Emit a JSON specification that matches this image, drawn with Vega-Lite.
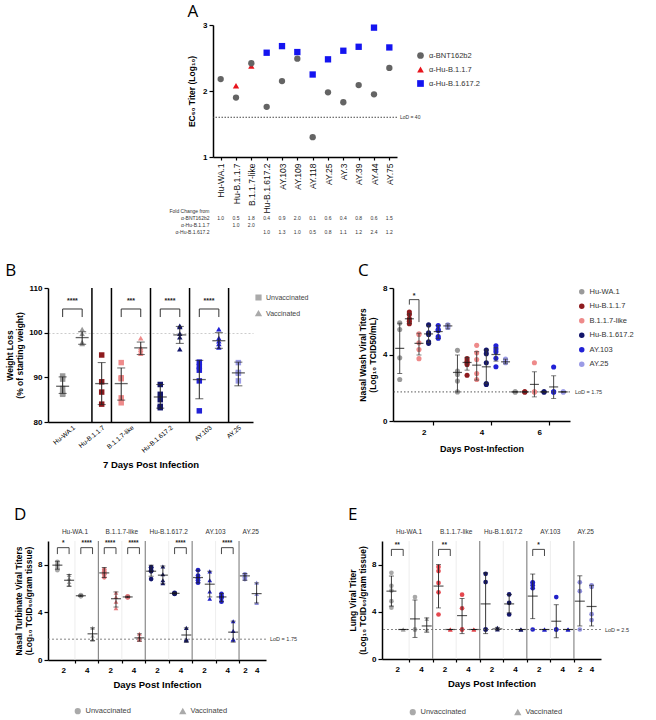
{
"$schema":"https://vega.github.io/schema/vega-lite/v6.json",
"background":"white",
"padding":{"left":5,"top":3,"right":0,"bottom":0},
"config":{
 "font":"Liberation Sans",
 "view":{"stroke":null},
 "axis":{"grid":false,"domainColor":"#000","tickColor":"#000","labelColor":"#000","titleColor":"#000","domainWidth":1.5,"tickWidth":1.2,"labelFont":"Liberation Sans","titleFont":"Liberation Sans"},
 "legend":{"labelFont":"Liberation Sans","labelColor":"#333"},
 "title":{"fontSize":17,"fontWeight":"normal","anchor":"start","frame":"bounds","font":"Open Sans","color":"#000","offset":4}
},
"datasets":{
 "Apts":[
  {"variant":"Hu-WA.1","serum":"α-BNT162b2","titer":2.18},
  {"variant":"Hu-B.1.1.7","serum":"α-Hu-B.1.1.7","titer":2.08},
  {"variant":"Hu-B.1.1.7","serum":"α-BNT162b2","titer":1.90},
  {"variant":"B.1.1.7-like","serum":"α-Hu-B.1.1.7","titer":2.38},
  {"variant":"B.1.1.7-like","serum":"α-BNT162b2","titer":2.42},
  {"variant":"Hu-B.1.617.2","serum":"α-BNT162b2","titer":1.76},
  {"variant":"Hu-B.1.617.2","serum":"α-Hu-B.1.617.2","titer":2.58},
  {"variant":"AY.103","serum":"α-BNT162b2","titer":2.15},
  {"variant":"AY.103","serum":"α-Hu-B.1.617.2","titer":2.68},
  {"variant":"AY.109","serum":"α-BNT162b2","titer":2.49},
  {"variant":"AY.109","serum":"α-Hu-B.1.617.2","titer":2.59},
  {"variant":"AY.118","serum":"α-BNT162b2","titer":1.30},
  {"variant":"AY.118","serum":"α-Hu-B.1.617.2","titer":2.25},
  {"variant":"AY.25","serum":"α-BNT162b2","titer":1.98},
  {"variant":"AY.25","serum":"α-Hu-B.1.617.2","titer":2.48},
  {"variant":"AY.3","serum":"α-BNT162b2","titer":1.83},
  {"variant":"AY.3","serum":"α-Hu-B.1.617.2","titer":2.61},
  {"variant":"AY.39","serum":"α-BNT162b2","titer":2.09},
  {"variant":"AY.39","serum":"α-Hu-B.1.617.2","titer":2.67},
  {"variant":"AY.44","serum":"α-BNT162b2","titer":1.95},
  {"variant":"AY.44","serum":"α-Hu-B.1.617.2","titer":2.96},
  {"variant":"AY.75","serum":"α-BNT162b2","titer":2.35},
  {"variant":"AY.75","serum":"α-Hu-B.1.617.2","titer":2.66}
 ],
 "Alod":[{"lod":1.602,"label":"LoD = 40"}],
 "Afold":[
  {"variant":"Hu-WA.1","row":"α-BNT162b2","fold":1.0},
  {"variant":"Hu-B.1.1.7","row":"α-BNT162b2","fold":0.5},
  {"variant":"B.1.1.7-like","row":"α-BNT162b2","fold":1.8},
  {"variant":"Hu-B.1.617.2","row":"α-BNT162b2","fold":0.4},
  {"variant":"AY.103","row":"α-BNT162b2","fold":0.9},
  {"variant":"AY.109","row":"α-BNT162b2","fold":2.0},
  {"variant":"AY.118","row":"α-BNT162b2","fold":0.1},
  {"variant":"AY.25","row":"α-BNT162b2","fold":0.6},
  {"variant":"AY.3","row":"α-BNT162b2","fold":0.4},
  {"variant":"AY.39","row":"α-BNT162b2","fold":0.8},
  {"variant":"AY.44","row":"α-BNT162b2","fold":0.6},
  {"variant":"AY.75","row":"α-BNT162b2","fold":1.5},
  {"variant":"Hu-B.1.1.7","row":"α-Hu-B.1.1.7","fold":1.0},
  {"variant":"B.1.1.7-like","row":"α-Hu-B.1.1.7","fold":2.0},
  {"variant":"Hu-B.1.617.2","row":"α-Hu-B.1.617.2","fold":1.0},
  {"variant":"AY.103","row":"α-Hu-B.1.617.2","fold":1.3},
  {"variant":"AY.109","row":"α-Hu-B.1.617.2","fold":1.0},
  {"variant":"AY.118","row":"α-Hu-B.1.617.2","fold":0.5},
  {"variant":"AY.25","row":"α-Hu-B.1.617.2","fold":0.8},
  {"variant":"AY.3","row":"α-Hu-B.1.617.2","fold":1.1},
  {"variant":"AY.39","row":"α-Hu-B.1.617.2","fold":1.2},
  {"variant":"AY.44","row":"α-Hu-B.1.617.2","fold":2.4},
  {"variant":"AY.75","row":"α-Hu-B.1.617.2","fold":1.2}
 ],
 "Bpts":[
  {"slot":"Hu-WA.1|U","variant":"Hu-WA.1","status":"Unvaccinated","value":90.3},
  {"slot":"Hu-WA.1|U","variant":"Hu-WA.1","status":"Unvaccinated","value":89.6},
  {"slot":"Hu-WA.1|U","variant":"Hu-WA.1","status":"Unvaccinated","value":87.5},
  {"slot":"Hu-WA.1|U","variant":"Hu-WA.1","status":"Unvaccinated","value":86.4},
  {"slot":"Hu-WA.1|U","variant":"Hu-WA.1","status":"Unvaccinated","value":86.2},
  {"slot":"Hu-WA.1|V","variant":"Hu-WA.1","status":"Vaccinated","value":100.8},
  {"slot":"Hu-WA.1|V","variant":"Hu-WA.1","status":"Vaccinated","value":99.8},
  {"slot":"Hu-WA.1|V","variant":"Hu-WA.1","status":"Vaccinated","value":97.9},
  {"slot":"Hu-WA.1|V","variant":"Hu-WA.1","status":"Vaccinated","value":97.6},
  {"slot":"Hu-WA.1|V","variant":"Hu-WA.1","status":"Vaccinated","value":97.5},
  {"slot":"Hu-B.1.1.7|U","variant":"Hu-B.1.1.7","status":"Unvaccinated","value":95.0},
  {"slot":"Hu-B.1.1.7|U","variant":"Hu-B.1.1.7","status":"Unvaccinated","value":89.0},
  {"slot":"Hu-B.1.1.7|U","variant":"Hu-B.1.1.7","status":"Unvaccinated","value":86.7},
  {"slot":"Hu-B.1.1.7|U","variant":"Hu-B.1.1.7","status":"Unvaccinated","value":84.0},
  {"slot":"B.1.1.7-like|U","variant":"B.1.1.7-like","status":"Unvaccinated","value":93.3},
  {"slot":"B.1.1.7-like|U","variant":"B.1.1.7-like","status":"Unvaccinated","value":89.9},
  {"slot":"B.1.1.7-like|U","variant":"B.1.1.7-like","status":"Unvaccinated","value":89.7},
  {"slot":"B.1.1.7-like|U","variant":"B.1.1.7-like","status":"Unvaccinated","value":85.4},
  {"slot":"B.1.1.7-like|U","variant":"B.1.1.7-like","status":"Unvaccinated","value":84.3},
  {"slot":"B.1.1.7-like|V","variant":"B.1.1.7-like","status":"Vaccinated","value":98.8},
  {"slot":"B.1.1.7-like|V","variant":"B.1.1.7-like","status":"Vaccinated","value":96.6},
  {"slot":"B.1.1.7-like|V","variant":"B.1.1.7-like","status":"Vaccinated","value":96.2},
  {"slot":"B.1.1.7-like|V","variant":"B.1.1.7-like","status":"Vaccinated","value":95.8},
  {"slot":"B.1.1.7-like|V","variant":"B.1.1.7-like","status":"Vaccinated","value":95.3},
  {"slot":"Hu-B.1.617.2|U","variant":"Hu-B.1.617.2","status":"Unvaccinated","value":88.4},
  {"slot":"Hu-B.1.617.2|U","variant":"Hu-B.1.617.2","status":"Unvaccinated","value":86.2},
  {"slot":"Hu-B.1.617.2|U","variant":"Hu-B.1.617.2","status":"Unvaccinated","value":85.0},
  {"slot":"Hu-B.1.617.2|U","variant":"Hu-B.1.617.2","status":"Unvaccinated","value":83.5},
  {"slot":"Hu-B.1.617.2|U","variant":"Hu-B.1.617.2","status":"Unvaccinated","value":83.2},
  {"slot":"Hu-B.1.617.2|V","variant":"Hu-B.1.617.2","status":"Vaccinated","value":101.5},
  {"slot":"Hu-B.1.617.2|V","variant":"Hu-B.1.617.2","status":"Vaccinated","value":101.3},
  {"slot":"Hu-B.1.617.2|V","variant":"Hu-B.1.617.2","status":"Vaccinated","value":99.8},
  {"slot":"Hu-B.1.617.2|V","variant":"Hu-B.1.617.2","status":"Vaccinated","value":99.0},
  {"slot":"Hu-B.1.617.2|V","variant":"Hu-B.1.617.2","status":"Vaccinated","value":96.3},
  {"slot":"AY.103|U","variant":"AY.103","status":"Unvaccinated","value":93.4},
  {"slot":"AY.103|U","variant":"AY.103","status":"Unvaccinated","value":92.4},
  {"slot":"AY.103|U","variant":"AY.103","status":"Unvaccinated","value":91.6},
  {"slot":"AY.103|U","variant":"AY.103","status":"Unvaccinated","value":89.2},
  {"slot":"AY.103|U","variant":"AY.103","status":"Unvaccinated","value":82.5},
  {"slot":"AY.103|V","variant":"AY.103","status":"Vaccinated","value":100.8},
  {"slot":"AY.103|V","variant":"AY.103","status":"Vaccinated","value":98.8},
  {"slot":"AY.103|V","variant":"AY.103","status":"Vaccinated","value":98.1},
  {"slot":"AY.103|V","variant":"AY.103","status":"Vaccinated","value":97.5},
  {"slot":"AY.103|V","variant":"AY.103","status":"Vaccinated","value":96.7},
  {"slot":"AY.25|U","variant":"AY.25","status":"Unvaccinated","value":93.3},
  {"slot":"AY.25|U","variant":"AY.25","status":"Unvaccinated","value":91.1},
  {"slot":"AY.25|U","variant":"AY.25","status":"Unvaccinated","value":90.9},
  {"slot":"AY.25|U","variant":"AY.25","status":"Unvaccinated","value":89.2}
 ],
 "Bsum":[
  {"slot":"Hu-WA.1|U","mean":88.0,"lo":86.4,"hi":90.1},
  {"slot":"Hu-WA.1|V","mean":98.9,"lo":97.4,"hi":100.2},
  {"slot":"Hu-B.1.1.7|U","mean":88.6,"lo":83.9,"hi":93.3},
  {"slot":"B.1.1.7-like|U","mean":88.6,"lo":84.9,"hi":92.1},
  {"slot":"B.1.1.7-like|V","mean":96.6,"lo":95.1,"hi":97.9},
  {"slot":"Hu-B.1.617.2|U","mean":85.6,"lo":83.1,"hi":88.4},
  {"slot":"Hu-B.1.617.2|V","mean":99.5,"lo":97.6,"hi":101.4},
  {"slot":"AY.103|U","mean":89.5,"lo":85.2,"hi":93.8},
  {"slot":"AY.103|V","mean":98.2,"lo":96.5,"hi":100.0},
  {"slot":"AY.25|U","mean":91.0,"lo":88.1,"hi":93.4}
 ],
 "Bsep":[{"slot":"Hu-B.1.1.7|U"},{"slot":"B.1.1.7-like|U"},{"slot":"Hu-B.1.617.2|U"},{"slot":"AY.103|U"},{"slot":"AY.25|U"}],
 "Bbr":[
  {"from":"Hu-WA.1|U","to":"Hu-WA.1|V","stars":"****"},
  {"from":"B.1.1.7-like|U","to":"B.1.1.7-like|V","stars":"***"},
  {"from":"Hu-B.1.617.2|U","to":"Hu-B.1.617.2|V","stars":"****"},
  {"from":"AY.103|U","to":"AY.103|V","stars":"****"}
 ],
 "Cpts":[
  {"slot":"2|Hu-WA.1","variant":"Hu-WA.1","value":5.9},
  {"slot":"2|Hu-WA.1","variant":"Hu-WA.1","value":5.5},
  {"slot":"2|Hu-WA.1","variant":"Hu-WA.1","value":3.8},
  {"slot":"2|Hu-WA.1","variant":"Hu-WA.1","value":2.5},
  {"slot":"2|Hu-B.1.1.7","variant":"Hu-B.1.1.7","value":6.55},
  {"slot":"2|Hu-B.1.1.7","variant":"Hu-B.1.1.7","value":6.4},
  {"slot":"2|Hu-B.1.1.7","variant":"Hu-B.1.1.7","value":6.15},
  {"slot":"2|Hu-B.1.1.7","variant":"Hu-B.1.1.7","value":6.0},
  {"slot":"2|Hu-B.1.1.7","variant":"Hu-B.1.1.7","value":5.85},
  {"slot":"2|B.1.1.7-like","variant":"B.1.1.7-like","value":5.25},
  {"slot":"2|B.1.1.7-like","variant":"B.1.1.7-like","value":5.2},
  {"slot":"2|B.1.1.7-like","variant":"B.1.1.7-like","value":4.7},
  {"slot":"2|B.1.1.7-like","variant":"B.1.1.7-like","value":4.3},
  {"slot":"2|B.1.1.7-like","variant":"B.1.1.7-like","value":3.75},
  {"slot":"2|Hu-B.1.617.2","variant":"Hu-B.1.617.2","value":5.78},
  {"slot":"2|Hu-B.1.617.2","variant":"Hu-B.1.617.2","value":5.3},
  {"slot":"2|Hu-B.1.617.2","variant":"Hu-B.1.617.2","value":5.2},
  {"slot":"2|Hu-B.1.617.2","variant":"Hu-B.1.617.2","value":4.77},
  {"slot":"2|Hu-B.1.617.2","variant":"Hu-B.1.617.2","value":4.67},
  {"slot":"2|AY.103","variant":"AY.103","value":5.74},
  {"slot":"2|AY.103","variant":"AY.103","value":5.5},
  {"slot":"2|AY.103","variant":"AY.103","value":5.45},
  {"slot":"2|AY.103","variant":"AY.103","value":5.08},
  {"slot":"2|AY.103","variant":"AY.103","value":4.98},
  {"slot":"2|AY.25","variant":"AY.25","value":5.78},
  {"slot":"2|AY.25","variant":"AY.25","value":5.7},
  {"slot":"2|AY.25","variant":"AY.25","value":5.62},
  {"slot":"4|Hu-WA.1","variant":"Hu-WA.1","value":4.25},
  {"slot":"4|Hu-WA.1","variant":"Hu-WA.1","value":3.0},
  {"slot":"4|Hu-WA.1","variant":"Hu-WA.1","value":2.8},
  {"slot":"4|Hu-WA.1","variant":"Hu-WA.1","value":2.4},
  {"slot":"4|Hu-WA.1","variant":"Hu-WA.1","value":1.75},
  {"slot":"4|Hu-B.1.1.7","variant":"Hu-B.1.1.7","value":3.75},
  {"slot":"4|Hu-B.1.1.7","variant":"Hu-B.1.1.7","value":3.6},
  {"slot":"4|Hu-B.1.1.7","variant":"Hu-B.1.1.7","value":3.5},
  {"slot":"4|Hu-B.1.1.7","variant":"Hu-B.1.1.7","value":3.4},
  {"slot":"4|Hu-B.1.1.7","variant":"Hu-B.1.1.7","value":2.75},
  {"slot":"4|B.1.1.7-like","variant":"B.1.1.7-like","value":4.55},
  {"slot":"4|B.1.1.7-like","variant":"B.1.1.7-like","value":4.1},
  {"slot":"4|B.1.1.7-like","variant":"B.1.1.7-like","value":3.7},
  {"slot":"4|B.1.1.7-like","variant":"B.1.1.7-like","value":2.85},
  {"slot":"4|B.1.1.7-like","variant":"B.1.1.7-like","value":2.5},
  {"slot":"4|Hu-B.1.617.2","variant":"Hu-B.1.617.2","value":4.27},
  {"slot":"4|Hu-B.1.617.2","variant":"Hu-B.1.617.2","value":4.05},
  {"slot":"4|Hu-B.1.617.2","variant":"Hu-B.1.617.2","value":3.5},
  {"slot":"4|Hu-B.1.617.2","variant":"Hu-B.1.617.2","value":2.25},
  {"slot":"4|Hu-B.1.617.2","variant":"Hu-B.1.617.2","value":2.2},
  {"slot":"4|AY.103","variant":"AY.103","value":4.53},
  {"slot":"4|AY.103","variant":"AY.103","value":4.33},
  {"slot":"4|AY.103","variant":"AY.103","value":4.17},
  {"slot":"4|AY.103","variant":"AY.103","value":3.77},
  {"slot":"4|AY.103","variant":"AY.103","value":3.26},
  {"slot":"4|AY.25","variant":"AY.25","value":3.72},
  {"slot":"4|AY.25","variant":"AY.25","value":3.6},
  {"slot":"4|AY.25","variant":"AY.25","value":3.5},
  {"slot":"6|Hu-WA.1","variant":"Hu-WA.1","value":1.75},
  {"slot":"6|Hu-WA.1","variant":"Hu-WA.1","value":1.75},
  {"slot":"6|Hu-B.1.1.7","variant":"Hu-B.1.1.7","value":1.75},
  {"slot":"6|Hu-B.1.1.7","variant":"Hu-B.1.1.7","value":1.75},
  {"slot":"6|B.1.1.7-like","variant":"B.1.1.7-like","value":3.5},
  {"slot":"6|B.1.1.7-like","variant":"B.1.1.7-like","value":1.75},
  {"slot":"6|B.1.1.7-like","variant":"B.1.1.7-like","value":1.75},
  {"slot":"6|Hu-B.1.617.2","variant":"Hu-B.1.617.2","value":1.75},
  {"slot":"6|Hu-B.1.617.2","variant":"Hu-B.1.617.2","value":1.75},
  {"slot":"6|AY.103","variant":"AY.103","value":3.25},
  {"slot":"6|AY.103","variant":"AY.103","value":1.75},
  {"slot":"6|AY.103","variant":"AY.103","value":1.75},
  {"slot":"6|AY.25","variant":"AY.25","value":1.75},
  {"slot":"6|AY.25","variant":"AY.25","value":1.75}
 ],
 "Csum":[
  {"slot":"2|Hu-WA.1","mean":4.37,"lo":2.86,"hi":5.88},
  {"slot":"2|Hu-B.1.1.7","mean":6.15,"lo":5.88,"hi":6.45},
  {"slot":"2|B.1.1.7-like","mean":4.67,"lo":3.97,"hi":5.28},
  {"slot":"2|Hu-B.1.617.2","mean":5.24,"lo":4.73,"hi":5.74},
  {"slot":"2|AY.103","mean":5.38,"lo":4.97,"hi":5.74},
  {"slot":"2|AY.25","mean":5.72,"lo":5.54,"hi":5.84},
  {"slot":"4|Hu-WA.1","mean":2.92,"lo":1.75,"hi":3.97},
  {"slot":"4|Hu-B.1.1.7","mean":3.52,"lo":3.06,"hi":3.83},
  {"slot":"4|B.1.1.7-like","mean":3.36,"lo":2.46,"hi":4.17},
  {"slot":"4|Hu-B.1.617.2","mean":3.26,"lo":2.25,"hi":4.27},
  {"slot":"4|AY.103","mean":4.0,"lo":3.6,"hi":4.41},
  {"slot":"4|AY.25","mean":3.56,"lo":3.44,"hi":3.72},
  {"slot":"6|Hu-WA.1","mean":1.75,"lo":1.75,"hi":1.75},
  {"slot":"6|Hu-B.1.1.7","mean":1.75,"lo":1.75,"hi":1.75},
  {"slot":"6|B.1.1.7-like","mean":2.2,"lo":1.45,"hi":2.96},
  {"slot":"6|Hu-B.1.617.2","mean":1.75,"lo":1.75,"hi":1.75},
  {"slot":"6|AY.103","mean":2.05,"lo":1.35,"hi":2.72},
  {"slot":"6|AY.25","mean":1.75,"lo":1.75,"hi":1.75}
 ],
 "Clod":[{"lod":1.75,"label":"LoD = 1.75"}],
 "Cbr":[{"from":"2|Hu-B.1.1.7","to":"2|B.1.1.7-like","stars":"*"}],
 "Sep":[{"slot":"B.1.1.7-like|2|U"},{"slot":"Hu-B.1.617.2|2|U"},{"slot":"AY.103|2|U"},{"slot":"AY.25|2|U"}],
 "Faint":[{"slot":"Hu-WA.1|4|U"},{"slot":"B.1.1.7-like|4|U"},{"slot":"Hu-B.1.617.2|4|U"},{"slot":"AY.103|4|U"}],
 "Head":[{"slot":"Hu-WA.1|4|U"},{"slot":"B.1.1.7-like|4|U"},{"slot":"Hu-B.1.617.2|4|U"},{"slot":"AY.103|4|U"},{"slot":"AY.25|4|U"}],
 "Dlod":[{"lod":1.75,"label":"LoD = 1.75"}],
 "Elod":[{"lod":2.5,"label":"LoD = 2.5"}],
 "Dpts":[
  {"slot":"Hu-WA.1|2|U","variant":"Hu-WA.1","status":"Unvaccinated","value":8.25},
  {"slot":"Hu-WA.1|2|U","variant":"Hu-WA.1","status":"Unvaccinated","value":8.05},
  {"slot":"Hu-WA.1|2|U","variant":"Hu-WA.1","status":"Unvaccinated","value":7.9},
  {"slot":"Hu-WA.1|2|U","variant":"Hu-WA.1","status":"Unvaccinated","value":7.7},
  {"slot":"Hu-WA.1|2|U","variant":"Hu-WA.1","status":"Unvaccinated","value":7.55},
  {"slot":"Hu-WA.1|2|V","variant":"Hu-WA.1","status":"Vaccinated","value":7.15},
  {"slot":"Hu-WA.1|2|V","variant":"Hu-WA.1","status":"Vaccinated","value":6.85},
  {"slot":"Hu-WA.1|2|V","variant":"Hu-WA.1","status":"Vaccinated","value":6.55},
  {"slot":"Hu-WA.1|2|V","variant":"Hu-WA.1","status":"Vaccinated","value":6.3},
  {"slot":"Hu-WA.1|4|U","variant":"Hu-WA.1","status":"Unvaccinated","value":5.45},
  {"slot":"Hu-WA.1|4|U","variant":"Hu-WA.1","status":"Unvaccinated","value":5.4},
  {"slot":"Hu-WA.1|4|U","variant":"Hu-WA.1","status":"Unvaccinated","value":5.38},
  {"slot":"Hu-WA.1|4|U","variant":"Hu-WA.1","status":"Unvaccinated","value":5.35},
  {"slot":"Hu-WA.1|4|V","variant":"Hu-WA.1","status":"Vaccinated","value":2.7},
  {"slot":"Hu-WA.1|4|V","variant":"Hu-WA.1","status":"Vaccinated","value":2.05},
  {"slot":"Hu-WA.1|4|V","variant":"Hu-WA.1","status":"Vaccinated","value":1.75},
  {"slot":"Hu-WA.1|4|V","variant":"Hu-WA.1","status":"Vaccinated","value":1.7},
  {"slot":"B.1.1.7-like|2|U","variant":"B.1.1.7-like","status":"Unvaccinated","value":7.6},
  {"slot":"B.1.1.7-like|2|U","variant":"B.1.1.7-like","status":"Unvaccinated","value":7.45},
  {"slot":"B.1.1.7-like|2|U","variant":"B.1.1.7-like","status":"Unvaccinated","value":7.3},
  {"slot":"B.1.1.7-like|2|U","variant":"B.1.1.7-like","status":"Unvaccinated","value":7.2},
  {"slot":"B.1.1.7-like|2|U","variant":"B.1.1.7-like","status":"Unvaccinated","value":6.95},
  {"slot":"B.1.1.7-like|2|V","variant":"B.1.1.7-like","status":"Vaccinated","value":5.65},
  {"slot":"B.1.1.7-like|2|V","variant":"B.1.1.7-like","status":"Vaccinated","value":5.3},
  {"slot":"B.1.1.7-like|2|V","variant":"B.1.1.7-like","status":"Vaccinated","value":4.9},
  {"slot":"B.1.1.7-like|2|V","variant":"B.1.1.7-like","status":"Vaccinated","value":4.35},
  {"slot":"B.1.1.7-like|4|U","variant":"B.1.1.7-like","status":"Unvaccinated","value":5.35},
  {"slot":"B.1.1.7-like|4|U","variant":"B.1.1.7-like","status":"Unvaccinated","value":5.3},
  {"slot":"B.1.1.7-like|4|U","variant":"B.1.1.7-like","status":"Unvaccinated","value":5.28},
  {"slot":"B.1.1.7-like|4|U","variant":"B.1.1.7-like","status":"Unvaccinated","value":5.25},
  {"slot":"B.1.1.7-like|4|V","variant":"B.1.1.7-like","status":"Vaccinated","value":2.2},
  {"slot":"B.1.1.7-like|4|V","variant":"B.1.1.7-like","status":"Vaccinated","value":1.92},
  {"slot":"B.1.1.7-like|4|V","variant":"B.1.1.7-like","status":"Vaccinated","value":1.75},
  {"slot":"B.1.1.7-like|4|V","variant":"B.1.1.7-like","status":"Vaccinated","value":1.7},
  {"slot":"Hu-B.1.617.2|2|U","variant":"Hu-B.1.617.2","status":"Unvaccinated","value":7.8},
  {"slot":"Hu-B.1.617.2|2|U","variant":"Hu-B.1.617.2","status":"Unvaccinated","value":7.75},
  {"slot":"Hu-B.1.617.2|2|U","variant":"Hu-B.1.617.2","status":"Unvaccinated","value":7.55},
  {"slot":"Hu-B.1.617.2|2|U","variant":"Hu-B.1.617.2","status":"Unvaccinated","value":7.45},
  {"slot":"Hu-B.1.617.2|2|U","variant":"Hu-B.1.617.2","status":"Unvaccinated","value":6.8},
  {"slot":"Hu-B.1.617.2|2|V","variant":"Hu-B.1.617.2","status":"Vaccinated","value":7.85},
  {"slot":"Hu-B.1.617.2|2|V","variant":"Hu-B.1.617.2","status":"Vaccinated","value":7.2},
  {"slot":"Hu-B.1.617.2|2|V","variant":"Hu-B.1.617.2","status":"Vaccinated","value":6.7},
  {"slot":"Hu-B.1.617.2|2|V","variant":"Hu-B.1.617.2","status":"Vaccinated","value":6.45},
  {"slot":"Hu-B.1.617.2|4|U","variant":"Hu-B.1.617.2","status":"Unvaccinated","value":5.65},
  {"slot":"Hu-B.1.617.2|4|U","variant":"Hu-B.1.617.2","status":"Unvaccinated","value":5.6},
  {"slot":"Hu-B.1.617.2|4|U","variant":"Hu-B.1.617.2","status":"Unvaccinated","value":5.58},
  {"slot":"Hu-B.1.617.2|4|U","variant":"Hu-B.1.617.2","status":"Unvaccinated","value":5.55},
  {"slot":"Hu-B.1.617.2|4|V","variant":"Hu-B.1.617.2","status":"Vaccinated","value":2.7},
  {"slot":"Hu-B.1.617.2|4|V","variant":"Hu-B.1.617.2","status":"Vaccinated","value":1.75},
  {"slot":"Hu-B.1.617.2|4|V","variant":"Hu-B.1.617.2","status":"Vaccinated","value":1.7},
  {"slot":"Hu-B.1.617.2|4|V","variant":"Hu-B.1.617.2","status":"Vaccinated","value":1.65},
  {"slot":"AY.103|2|U","variant":"AY.103","status":"Unvaccinated","value":7.55},
  {"slot":"AY.103|2|U","variant":"AY.103","status":"Unvaccinated","value":7.1},
  {"slot":"AY.103|2|U","variant":"AY.103","status":"Unvaccinated","value":6.85},
  {"slot":"AY.103|2|U","variant":"AY.103","status":"Unvaccinated","value":6.7},
  {"slot":"AY.103|2|U","variant":"AY.103","status":"Unvaccinated","value":6.5},
  {"slot":"AY.103|2|V","variant":"AY.103","status":"Vaccinated","value":7.45},
  {"slot":"AY.103|2|V","variant":"AY.103","status":"Vaccinated","value":6.7},
  {"slot":"AY.103|2|V","variant":"AY.103","status":"Vaccinated","value":5.75},
  {"slot":"AY.103|2|V","variant":"AY.103","status":"Vaccinated","value":5.15},
  {"slot":"AY.103|4|U","variant":"AY.103","status":"Unvaccinated","value":5.55},
  {"slot":"AY.103|4|U","variant":"AY.103","status":"Unvaccinated","value":5.35},
  {"slot":"AY.103|4|U","variant":"AY.103","status":"Unvaccinated","value":5.3},
  {"slot":"AY.103|4|U","variant":"AY.103","status":"Unvaccinated","value":5.2},
  {"slot":"AY.103|4|U","variant":"AY.103","status":"Unvaccinated","value":4.9},
  {"slot":"AY.103|4|V","variant":"AY.103","status":"Vaccinated","value":3.25},
  {"slot":"AY.103|4|V","variant":"AY.103","status":"Vaccinated","value":2.45},
  {"slot":"AY.103|4|V","variant":"AY.103","status":"Vaccinated","value":1.75},
  {"slot":"AY.103|4|V","variant":"AY.103","status":"Vaccinated","value":1.7},
  {"slot":"AY.25|2|U","variant":"AY.25","status":"Unvaccinated","value":7.2},
  {"slot":"AY.25|2|U","variant":"AY.25","status":"Unvaccinated","value":6.95},
  {"slot":"AY.25|2|U","variant":"AY.25","status":"Unvaccinated","value":6.8},
  {"slot":"AY.25|4|U","variant":"AY.25","status":"Vaccinated","value":6.5},
  {"slot":"AY.25|4|U","variant":"AY.25","status":"Vaccinated","value":5.55},
  {"slot":"AY.25|4|U","variant":"AY.25","status":"Vaccinated","value":4.8}
 ],
 "Dsum":[
  {"slot":"Hu-WA.1|2|U","mean":7.97,"lo":7.63,"hi":8.3},
  {"slot":"Hu-WA.1|2|V","mean":6.7,"lo":6.2,"hi":7.18},
  {"slot":"Hu-WA.1|4|U","mean":5.4,"lo":5.33,"hi":5.47},
  {"slot":"Hu-WA.1|4|V","mean":2.2,"lo":1.63,"hi":2.7},
  {"slot":"B.1.1.7-like|2|U","mean":7.32,"lo":6.93,"hi":7.77},
  {"slot":"B.1.1.7-like|2|V","mean":5.15,"lo":4.45,"hi":5.72},
  {"slot":"B.1.1.7-like|4|U","mean":5.3,"lo":5.24,"hi":5.36},
  {"slot":"B.1.1.7-like|4|V","mean":1.86,"lo":1.58,"hi":2.2},
  {"slot":"Hu-B.1.617.2|2|U","mean":7.46,"lo":7.04,"hi":7.97},
  {"slot":"Hu-B.1.617.2|2|V","mean":7.13,"lo":6.4,"hi":7.9},
  {"slot":"Hu-B.1.617.2|4|U","mean":5.6,"lo":5.54,"hi":5.66},
  {"slot":"Hu-B.1.617.2|4|V","mean":2.1,"lo":1.5,"hi":2.7},
  {"slot":"AY.103|2|U","mean":6.93,"lo":6.48,"hi":7.55},
  {"slot":"AY.103|2|V","mean":6.37,"lo":5.3,"hi":7.46},
  {"slot":"AY.103|4|U","mean":5.3,"lo":4.9,"hi":5.58},
  {"slot":"AY.103|4|V","mean":2.34,"lo":1.5,"hi":3.27},
  {"slot":"AY.25|2|U","mean":7.07,"lo":6.7,"hi":7.27},
  {"slot":"AY.25|4|U","mean":5.58,"lo":4.79,"hi":6.48}
 ],
 "Dbr":[
  {"from":"Hu-WA.1|2|U","to":"Hu-WA.1|2|V","stars":"*"},
  {"from":"Hu-WA.1|4|U","to":"Hu-WA.1|4|V","stars":"****"},
  {"from":"B.1.1.7-like|2|U","to":"B.1.1.7-like|2|V","stars":"****"},
  {"from":"B.1.1.7-like|4|U","to":"B.1.1.7-like|4|V","stars":"****"},
  {"from":"Hu-B.1.617.2|4|U","to":"Hu-B.1.617.2|4|V","stars":"****"},
  {"from":"AY.103|4|U","to":"AY.103|4|V","stars":"****"}
 ],
 "Epts":[
  {"slot":"Hu-WA.1|2|U","variant":"Hu-WA.1","status":"Unvaccinated","value":7.3},
  {"slot":"Hu-WA.1|2|U","variant":"Hu-WA.1","status":"Unvaccinated","value":6.2},
  {"slot":"Hu-WA.1|2|U","variant":"Hu-WA.1","status":"Unvaccinated","value":5.8},
  {"slot":"Hu-WA.1|2|U","variant":"Hu-WA.1","status":"Unvaccinated","value":4.9},
  {"slot":"Hu-WA.1|2|U","variant":"Hu-WA.1","status":"Unvaccinated","value":4.35},
  {"slot":"Hu-WA.1|2|V","variant":"Hu-WA.1","status":"Vaccinated","value":2.5},
  {"slot":"Hu-WA.1|2|V","variant":"Hu-WA.1","status":"Vaccinated","value":2.5},
  {"slot":"Hu-WA.1|4|U","variant":"Hu-WA.1","status":"Unvaccinated","value":5.25},
  {"slot":"Hu-WA.1|4|U","variant":"Hu-WA.1","status":"Unvaccinated","value":2.5},
  {"slot":"Hu-WA.1|4|U","variant":"Hu-WA.1","status":"Unvaccinated","value":2.5},
  {"slot":"Hu-WA.1|4|V","variant":"Hu-WA.1","status":"Vaccinated","value":3.4},
  {"slot":"Hu-WA.1|4|V","variant":"Hu-WA.1","status":"Vaccinated","value":2.5},
  {"slot":"B.1.1.7-like|2|U","variant":"B.1.1.7-like","status":"Unvaccinated","value":7.8},
  {"slot":"B.1.1.7-like|2|U","variant":"B.1.1.7-like","status":"Unvaccinated","value":7.45},
  {"slot":"B.1.1.7-like|2|U","variant":"B.1.1.7-like","status":"Unvaccinated","value":6.45},
  {"slot":"B.1.1.7-like|2|U","variant":"B.1.1.7-like","status":"Unvaccinated","value":5.65},
  {"slot":"B.1.1.7-like|2|U","variant":"B.1.1.7-like","status":"Unvaccinated","value":3.77},
  {"slot":"B.1.1.7-like|2|V","variant":"B.1.1.7-like","status":"Vaccinated","value":2.5},
  {"slot":"B.1.1.7-like|2|V","variant":"B.1.1.7-like","status":"Vaccinated","value":2.5},
  {"slot":"B.1.1.7-like|4|U","variant":"B.1.1.7-like","status":"Unvaccinated","value":5.45},
  {"slot":"B.1.1.7-like|4|U","variant":"B.1.1.7-like","status":"Unvaccinated","value":4.3},
  {"slot":"B.1.1.7-like|4|U","variant":"B.1.1.7-like","status":"Unvaccinated","value":2.5},
  {"slot":"B.1.1.7-like|4|U","variant":"B.1.1.7-like","status":"Unvaccinated","value":2.5},
  {"slot":"B.1.1.7-like|4|V","variant":"B.1.1.7-like","status":"Vaccinated","value":2.5},
  {"slot":"B.1.1.7-like|4|V","variant":"B.1.1.7-like","status":"Vaccinated","value":2.5},
  {"slot":"Hu-B.1.617.2|2|U","variant":"Hu-B.1.617.2","status":"Unvaccinated","value":7.22},
  {"slot":"Hu-B.1.617.2|2|U","variant":"Hu-B.1.617.2","status":"Unvaccinated","value":6.52},
  {"slot":"Hu-B.1.617.2|2|U","variant":"Hu-B.1.617.2","status":"Unvaccinated","value":2.5},
  {"slot":"Hu-B.1.617.2|2|U","variant":"Hu-B.1.617.2","status":"Unvaccinated","value":2.5},
  {"slot":"Hu-B.1.617.2|2|V","variant":"Hu-B.1.617.2","status":"Vaccinated","value":2.65},
  {"slot":"Hu-B.1.617.2|2|V","variant":"Hu-B.1.617.2","status":"Vaccinated","value":2.5},
  {"slot":"Hu-B.1.617.2|4|U","variant":"Hu-B.1.617.2","status":"Unvaccinated","value":5.47},
  {"slot":"Hu-B.1.617.2|4|U","variant":"Hu-B.1.617.2","status":"Unvaccinated","value":4.76},
  {"slot":"Hu-B.1.617.2|4|U","variant":"Hu-B.1.617.2","status":"Unvaccinated","value":3.77},
  {"slot":"Hu-B.1.617.2|4|V","variant":"Hu-B.1.617.2","status":"Vaccinated","value":2.5},
  {"slot":"Hu-B.1.617.2|4|V","variant":"Hu-B.1.617.2","status":"Vaccinated","value":2.5},
  {"slot":"AY.103|2|U","variant":"AY.103","status":"Unvaccinated","value":6.5},
  {"slot":"AY.103|2|U","variant":"AY.103","status":"Unvaccinated","value":6.45},
  {"slot":"AY.103|2|U","variant":"AY.103","status":"Unvaccinated","value":6.25},
  {"slot":"AY.103|2|U","variant":"AY.103","status":"Unvaccinated","value":6.0},
  {"slot":"AY.103|2|U","variant":"AY.103","status":"Unvaccinated","value":2.5},
  {"slot":"AY.103|2|V","variant":"AY.103","status":"Vaccinated","value":2.5},
  {"slot":"AY.103|2|V","variant":"AY.103","status":"Vaccinated","value":2.5},
  {"slot":"AY.103|4|U","variant":"AY.103","status":"Unvaccinated","value":5.25},
  {"slot":"AY.103|4|U","variant":"AY.103","status":"Unvaccinated","value":2.5},
  {"slot":"AY.103|4|U","variant":"AY.103","status":"Unvaccinated","value":2.5},
  {"slot":"AY.103|4|V","variant":"AY.103","status":"Vaccinated","value":2.5},
  {"slot":"AY.103|4|V","variant":"AY.103","status":"Vaccinated","value":2.5},
  {"slot":"AY.25|2|U","variant":"AY.25","status":"Unvaccinated","value":6.5},
  {"slot":"AY.25|2|U","variant":"AY.25","status":"Unvaccinated","value":5.75},
  {"slot":"AY.25|2|U","variant":"AY.25","status":"Unvaccinated","value":2.5},
  {"slot":"AY.25|4|U","variant":"AY.25","status":"Unvaccinated","value":6.25},
  {"slot":"AY.25|4|U","variant":"AY.25","status":"Unvaccinated","value":6.1},
  {"slot":"AY.25|4|U","variant":"AY.25","status":"Unvaccinated","value":3.8},
  {"slot":"AY.25|4|U","variant":"AY.25","status":"Unvaccinated","value":3.3}
 ],
 "Esum":[
  {"slot":"Hu-WA.1|2|U","mean":5.75,"lo":4.48,"hi":7.03},
  {"slot":"Hu-WA.1|2|V","mean":2.5,"lo":2.5,"hi":2.5},
  {"slot":"Hu-WA.1|4|U","mean":3.4,"lo":1.83,"hi":5.0},
  {"slot":"Hu-WA.1|4|V","mean":2.8,"lo":2.27,"hi":3.48},
  {"slot":"B.1.1.7-like|2|U","mean":6.18,"lo":4.33,"hi":8.0},
  {"slot":"B.1.1.7-like|2|V","mean":2.5,"lo":2.5,"hi":2.5},
  {"slot":"B.1.1.7-like|4|U","mean":3.68,"lo":2.15,"hi":5.13},
  {"slot":"B.1.1.7-like|4|V","mean":2.5,"lo":2.5,"hi":2.5},
  {"slot":"Hu-B.1.617.2|2|U","mean":4.67,"lo":2.15,"hi":7.3},
  {"slot":"Hu-B.1.617.2|2|V","mean":2.55,"lo":2.45,"hi":2.68},
  {"slot":"Hu-B.1.617.2|4|U","mean":4.67,"lo":3.9,"hi":5.47},
  {"slot":"Hu-B.1.617.2|4|V","mean":2.5,"lo":2.5,"hi":2.5},
  {"slot":"AY.103|2|U","mean":5.33,"lo":3.42,"hi":7.2},
  {"slot":"AY.103|2|V","mean":2.5,"lo":2.5,"hi":2.5},
  {"slot":"AY.103|4|U","mean":3.2,"lo":1.8,"hi":4.6},
  {"slot":"AY.103|4|V","mean":2.5,"lo":2.5,"hi":2.5},
  {"slot":"AY.25|2|U","mean":4.9,"lo":2.8,"hi":7.05},
  {"slot":"AY.25|4|U","mean":4.45,"lo":2.8,"hi":6.25}
 ],
 "Ebr":[
  {"from":"Hu-WA.1|2|U","to":"Hu-WA.1|2|V","stars":"**"},
  {"from":"B.1.1.7-like|2|U","to":"B.1.1.7-like|2|V","stars":"**"},
  {"from":"AY.103|2|U","to":"AY.103|2|V","stars":"*"}
 ]
},
"spacing":27,
"resolve":{"scale":{"color":"independent","shape":"independent"},"legend":{"color":"independent","shape":"independent"}},
"vconcat":[
 {
  "spacing":0,
  "resolve":{"scale":{"color":"independent","shape":"independent"},"legend":{"color":"independent","shape":"independent"}},
  "hconcat":[
   {"width":120,"height":1,"data":{"values":[{}]},"mark":{"type":"text","text":""},"encoding":{}},
   {
    "spacing":50,
    "bounds":"flush",
    "resolve":{"scale":{"x":"shared","color":"independent","shape":"independent"},"legend":{"color":"independent","shape":"independent"}},
    "vconcat":[
     {
      "title":{"text":"A","offset":0},
      "width":184,"height":132,
      "layer":[
       {"data":{"name":"Apts"},"mark":{"type":"point","filled":true,"opacity":1,"size":40},
        "encoding":{
         "x":{"field":"variant","type":"nominal","scale":{"type":"point","padding":0.5,"domain":["Hu-WA.1","Hu-B.1.1.7","B.1.1.7-like","Hu-B.1.617.2","AY.103","AY.109","AY.118","AY.25","AY.3","AY.39","AY.44","AY.75"]},
              "axis":{"title":null,"labelAngle":-90,"labelFontSize":8.5,"labelPadding":3,"tickSize":3,"labelOverlap":false,"labelColor":"#111"}},
         "y":{"field":"titer","type":"quantitative","scale":{"domain":[1,3],"nice":false},
              "axis":{"title":"EC₅₀ Titer (Log₁₀)","values":[1,2,3],"format":".0f","labelFontWeight":"bold","labelFontSize":8,"titleFontSize":8.5,"titleFontWeight":"bold","tickSize":4,"titlePadding":6}},
         "color":{"field":"serum","type":"nominal","scale":{"domain":["α-BNT162b2","α-Hu-B.1.1.7","α-Hu-B.1.617.2"],"range":["#646464","#e8141c","#1414f0"]},
              "legend":{"title":null,"orient":"none","legendX":203,"legendY":26,"labelFontSize":7.5,"symbolSize":45,"rowPadding":6,"labelColor":"#333"}},
         "shape":{"field":"serum","type":"nominal","scale":{"domain":["α-BNT162b2","α-Hu-B.1.1.7","α-Hu-B.1.617.2"],"range":["circle","triangle-up","square"]},
              "legend":{"title":null,"orient":"none","legendX":203,"legendY":26,"labelFontSize":7.5,"symbolSize":45,"rowPadding":6,"labelColor":"#333"}}
        }},
       {"data":{"name":"Alod"},"mark":{"type":"rule","strokeDash":[1.5,1.5],"color":"#333","strokeWidth":0.9},"encoding":{"y":{"field":"lod","type":"quantitative"}}},
       {"data":{"name":"Alod"},"mark":{"type":"text","align":"left","dx":3,"fontSize":5,"color":"#333"},"encoding":{"x":{"value":"width"},"y":{"field":"lod","type":"quantitative"},"text":{"field":"label"}}}
      ]
     },
     {
      "width":184,"height":28,
      "data":{"name":"Afold"},
      "mark":{"type":"text","fontSize":5,"color":"#333"},
      "encoding":{
       "x":{"field":"variant","type":"nominal","scale":{"type":"point","padding":0.5,"domain":["Hu-WA.1","Hu-B.1.1.7","B.1.1.7-like","Hu-B.1.617.2","AY.103","AY.109","AY.118","AY.25","AY.3","AY.39","AY.44","AY.75"]},"axis":null},
       "y":{"field":"row","type":"nominal","scale":{"domain":["Fold Change from","α-BNT162b2","α-Hu-B.1.1.7","α-Hu-B.1.617.2"]},"axis":{"title":null,"domain":false,"ticks":false,"labelFontSize":5,"labelColor":"#333","labelPadding":4}},
       "text":{"field":"fold","type":"quantitative","format":".1f"}
      }
     }
    ]
   }
  ]
 },
 {
 "spacing":36,
 "resolve":{"scale":{"color":"independent","shape":"independent"},"legend":{"color":"independent","shape":"independent"}},
 "vconcat":[
 {
  "spacing":49,
  "resolve":{"scale":{"color":"independent","shape":"independent"},"legend":{"color":"independent","shape":"independent"}},
  "hconcat":[
   {
    "title":{"text":"B"},
    "width":205,"height":134,
    "layer":[
     {"data":{"name":"Bpts"},"mark":{"type":"point","filled":true,"size":30,"opacity":1,"color":"#aaaaaa"},
      "encoding":{
       "x":{"field":"slot","type":"nominal","scale":{"type":"band","domain":["Hu-WA.1|U","Hu-WA.1|V","Hu-B.1.1.7|U","B.1.1.7-like|U","B.1.1.7-like|V","Hu-B.1.617.2|U","Hu-B.1.617.2|V","AY.103|U","AY.103|V","AY.25|U"],"paddingInner":0,"paddingOuter":0.25},
            "axis":{"title":"7 Days Post Infection","titleFontSize":9.5,"titleFontWeight":"bold","titlePadding":6,"labelAngle":-40,"labelFontSize":6.5,"labelPadding":2,"ticks":false,"labelOverlap":false,
                    "labelExpr":"split(datum.value,'|')[1]=='U' ? split(datum.value,'|')[0] : ''",
                    "labelOffset":{"condition":{"test":"datum.value=='Hu-B.1.1.7|U' || datum.value=='AY.25|U'","value":0},"value":9.76}}},
       "y":{"field":"value","type":"quantitative","scale":{"domain":[80,110],"nice":false,"zero":false},
            "axis":{"title":["Weight Loss","(% of starting weight)"],"values":[80,90,100,110],"labelFontWeight":"bold","labelFontSize":8,"titleFontSize":8.5,"titleFontWeight":"bold","tickSize":4,"titlePadding":4,
                    "grid":true,"gridDash":[2,2],"gridColor":"#cccccc","gridOpacity":{"condition":{"test":"datum.value==100","value":1},"value":0}}},
       "color":{"field":"variant","type":"nominal","scale":{"domain":["Hu-WA.1","Hu-B.1.1.7","B.1.1.7-like","Hu-B.1.617.2","AY.103","AY.25"],"range":["#9a9a9a","#8e1b1e","#ee8a8a","#13166b","#2121d6","#9b9be6"]},"legend":null},
       "shape":{"field":"status","type":"nominal","scale":{"domain":["Unvaccinated","Vaccinated"],"range":["square","triangle-up"]},
            "legend":{"title":null,"orient":"none","legendX":207,"legendY":6,"labelFontSize":7,"symbolSize":22,"symbolFillColor":"#aaaaaa","symbolStrokeColor":"#aaaaaa","rowPadding":5,"labelColor":"#444"}}
      }},
     {"data":{"name":"Bsep"},"mark":{"type":"rule","color":"#000","strokeWidth":1.5},"encoding":{"x":{"field":"slot","type":"nominal","bandPosition":0}}},
     {"data":{"name":"Bsum"},"mark":{"type":"rule","color":"#222","strokeWidth":1},"encoding":{"x":{"field":"slot","type":"nominal"},"y":{"field":"lo","type":"quantitative"},"y2":{"field":"hi"}}},
     {"data":{"name":"Bsum"},"mark":{"type":"tick","color":"#222","size":8,"thickness":1},"encoding":{"x":{"field":"slot","type":"nominal"},"y":{"field":"lo","type":"quantitative"}}},
     {"data":{"name":"Bsum"},"mark":{"type":"tick","color":"#222","size":8,"thickness":1},"encoding":{"x":{"field":"slot","type":"nominal"},"y":{"field":"hi","type":"quantitative"}}},
     {"data":{"name":"Bsum"},"mark":{"type":"tick","color":"#222","size":13,"thickness":1.3},"encoding":{"x":{"field":"slot","type":"nominal"},"y":{"field":"mean","type":"quantitative"}}},
     {"data":{"name":"Bbr"},"mark":{"type":"rule","color":"#333","strokeWidth":1},"encoding":{"x":{"field":"from","type":"nominal"},"x2":{"field":"to"},"y":{"datum":105.3}}},
     {"data":{"name":"Bbr"},"mark":{"type":"rule","color":"#333","strokeWidth":1},"encoding":{"x":{"field":"from","type":"nominal"},"y":{"datum":105.3},"y2":{"datum":103.5}}},
     {"data":{"name":"Bbr"},"mark":{"type":"rule","color":"#333","strokeWidth":1},"encoding":{"x":{"field":"to","type":"nominal"},"y":{"datum":105.3},"y2":{"datum":103.5}}},
     {"data":{"name":"Bbr"},"mark":{"type":"text","fontSize":7,"fontWeight":"bold","baseline":"middle","color":"#222"},"encoding":{"x":{"field":"to","type":"nominal","bandPosition":0},"y":{"datum":107.0},"text":{"field":"stars"}}}
    ]
   },
   {
    "title":{"text":"C"},
    "width":177,"height":133,
    "layer":[
     {"data":{"name":"Cpts"},"mark":{"type":"point","filled":true,"size":26,"opacity":1,"shape":"circle"},
      "encoding":{
       "x":{"field":"slot","type":"nominal","scale":{"type":"band","paddingInner":0,"paddingOuter":0.2,"domain":["2|Hu-WA.1","2|Hu-B.1.1.7","2|B.1.1.7-like","2|Hu-B.1.617.2","2|AY.103","2|AY.25","4|Hu-WA.1","4|Hu-B.1.1.7","4|B.1.1.7-like","4|Hu-B.1.617.2","4|AY.103","4|AY.25","6|Hu-WA.1","6|Hu-B.1.1.7","6|B.1.1.7-like","6|Hu-B.1.617.2","6|AY.103","6|AY.25"]},
            "axis":{"title":"Days Post-Infection","titleFontSize":9,"titleFontWeight":"bold","titlePadding":8,"labelAngle":0,"labelFontSize":8,"labelFontWeight":"bold","labelOverlap":false,"labelPadding":3,
                    "labelExpr":"split(datum.value,'|')[1]=='Hu-B.1.617.2' ? split(datum.value,'|')[0] : ''","labelOffset":-4.81,
                    "tickBand":"extent","tickSize":4,"tickOpacity":{"condition":{"test":"split(datum.value,'|')[1]=='Hu-B.1.617.2'","value":1},"value":0}}},
       "y":{"field":"value","type":"quantitative","scale":{"domain":[0,8],"nice":false},
            "axis":{"title":["Nasal  Wash Viral Titers","(Log₁₀ TCID50/mL)"],"values":[0,2,4,6,8],"labelFontWeight":"bold","labelFontSize":8,"titleFontSize":8.5,"titleFontWeight":"bold","tickSize":4,"titlePadding":5}},
       "color":{"field":"variant","type":"nominal","scale":{"domain":["Hu-WA.1","Hu-B.1.1.7","B.1.1.7-like","Hu-B.1.617.2","AY.103","AY.25"],"range":["#9a9a9a","#8e1b1e","#ee8a8a","#13166b","#2121d6","#9b9be6"]},
            "legend":{"title":null,"orient":"right","offset":8,"labelFontSize":7.5,"symbolSize":30,"symbolType":"circle","rowPadding":5.5,"labelColor":"#333"}}
      }},
     {"data":{"name":"Clod"},"mark":{"type":"rule","strokeDash":[1.5,2],"color":"#444","strokeWidth":0.9},"encoding":{"y":{"field":"lod","type":"quantitative"}}},
     {"data":{"name":"Clod"},"mark":{"type":"text","align":"left","dx":5,"fontSize":5.5,"color":"#333"},"encoding":{"x":{"value":"width"},"y":{"field":"lod","type":"quantitative"},"text":{"field":"label"}}},
     {"data":{"name":"Csum"},"mark":{"type":"rule","color":"#333","strokeWidth":0.9},"encoding":{"x":{"field":"slot","type":"nominal"},"y":{"field":"lo","type":"quantitative"},"y2":{"field":"hi"}}},
     {"data":{"name":"Csum"},"mark":{"type":"tick","color":"#333","size":5,"thickness":0.9},"encoding":{"x":{"field":"slot","type":"nominal"},"y":{"field":"lo","type":"quantitative"}}},
     {"data":{"name":"Csum"},"mark":{"type":"tick","color":"#333","size":5,"thickness":0.9},"encoding":{"x":{"field":"slot","type":"nominal"},"y":{"field":"hi","type":"quantitative"}}},
     {"data":{"name":"Csum"},"mark":{"type":"tick","color":"#111","size":9,"thickness":1.2},"encoding":{"x":{"field":"slot","type":"nominal"},"y":{"field":"mean","type":"quantitative"}}},
     {"data":{"name":"Cbr"},"mark":{"type":"rule","color":"#333","strokeWidth":0.9},"encoding":{"x":{"field":"from","type":"nominal"},"x2":{"field":"to"},"y":{"datum":7.3}}},
     {"data":{"name":"Cbr"},"mark":{"type":"rule","color":"#333","strokeWidth":0.9},"encoding":{"x":{"field":"from","type":"nominal"},"y":{"datum":7.3},"y2":{"datum":7.0}}},
     {"data":{"name":"Cbr"},"mark":{"type":"rule","color":"#333","strokeWidth":0.9},"encoding":{"x":{"field":"to","type":"nominal"},"y":{"datum":7.3},"y2":{"datum":5.95}}},
     {"data":{"name":"Cbr"},"mark":{"type":"text","fontSize":7,"fontWeight":"bold","baseline":"middle","color":"#222"},"encoding":{"x":{"field":"to","type":"nominal","bandPosition":0},"y":{"datum":7.5},"text":{"field":"stars"}}}
    ]
   }
  ]
 },
 {
  "spacing":50,
  "resolve":{"scale":{"color":"independent","shape":"independent"},"legend":{"color":"independent","shape":"independent"}},
  "hconcat":[
   {
    "title":{"text":"D"},
    "width":218,"height":119,
    "resolve":{"axis":{"x":"independent"}},
    "layer":[
     {"data":{"name":"Dpts"},"mark":{"type":"point","filled":true,"size":22,"opacity":1,"color":"#aaaaaa"},
      "encoding":{
       "x":{"field":"slot","type":"nominal","scale":{"type":"band","paddingInner":0,"paddingOuter":0.3,"domain":["Hu-WA.1|2|U","Hu-WA.1|2|V","Hu-WA.1|4|U","Hu-WA.1|4|V","B.1.1.7-like|2|U","B.1.1.7-like|2|V","B.1.1.7-like|4|U","B.1.1.7-like|4|V","Hu-B.1.617.2|2|U","Hu-B.1.617.2|2|V","Hu-B.1.617.2|4|U","Hu-B.1.617.2|4|V","AY.103|2|U","AY.103|2|V","AY.103|4|U","AY.103|4|V","AY.25|2|U","AY.25|4|U"]},
            "axis":{"orient":"bottom","title":"Days Post Infection","titleFontSize":9.5,"titleFontWeight":"bold","titlePadding":5,"labelAngle":0,"labelFontSize":8,"labelFontWeight":"bold","labelOverlap":false,"labelPadding":3,
                    "labelExpr":"(split(datum.value,'|')[2]=='V' || split(datum.value,'|')[0]=='AY.25') ? split(datum.value,'|')[1] : ''",
                    "labelOffset":{"condition":{"test":"split(datum.value,'|')[0]!='AY.25'","value":-5.86},"value":0},
                    "tickBand":"extent","tickSize":3,"tickOpacity":{"condition":{"test":"split(datum.value,'|')[2]=='V'","value":1},"value":0}}},
       "y":{"field":"value","type":"quantitative","scale":{"domain":[0,10],"nice":false},
            "axis":{"title":["Nasal  Turbinate Viral Titers","(Log₁₀ TCID₅₀/gram tissue)"],"values":[0,2,4,6,8,10],"labelFontWeight":"bold","labelFontSize":8,"titleFontSize":8.5,"titleFontWeight":"bold","tickSize":4,"titlePadding":4}},
       "color":{"field":"variant","type":"nominal","scale":{"domain":["Hu-WA.1","Hu-B.1.1.7","B.1.1.7-like","Hu-B.1.617.2","AY.103","AY.25"],"range":["#a8a8a8","#8e1b1e","#e27a7e","#13166b","#2121c8","#8d8ddc"]},"legend":null},
       "shape":{"field":"status","type":"nominal","scale":{"domain":["Unvaccinated","Vaccinated"],"range":["circle","triangle-up"]},
            "legend":{"title":null,"orient":"none","legendX":26,"legendY":166,"direction":"horizontal","labelFontSize":7.5,"symbolSize":22,"symbolFillColor":"#aaaaaa","symbolStrokeColor":"#aaaaaa","columnPadding":46,"labelColor":"#444"}}
      }},
     {"data":{"name":"Faint"},"mark":{"type":"rule","color":"#e8e8e8","strokeWidth":0.8},"encoding":{"x":{"field":"slot","type":"nominal","bandPosition":0,"axis":null}}},
     {"data":{"name":"Sep"},"mark":{"type":"rule","color":"#8a8a8a","strokeWidth":1.2},"encoding":{"x":{"field":"slot","type":"nominal","bandPosition":0,"axis":null}}},
     {"data":{"name":"Head"},"mark":{"type":"point","opacity":0},"encoding":{"x":{"field":"slot","type":"nominal",
        "axis":{"orient":"top","title":null,"domain":false,"ticks":false,"labelAngle":0,"labelFontSize":6.5,"labelColor":"#333","labelPadding":7,"labelOverlap":false,"labelOffset":-5.86,
                "labelExpr":"(split(datum.value,'|')[1]=='4' && split(datum.value,'|')[2]=='U') ? split(datum.value,'|')[0] : ''"}}}},
     {"data":{"name":"Dlod"},"mark":{"type":"rule","strokeDash":[2,2],"color":"#666","strokeWidth":0.8},"encoding":{"y":{"field":"lod","type":"quantitative"}}},
     {"data":{"name":"Dlod"},"mark":{"type":"text","align":"left","dx":4,"fontSize":5.5,"color":"#333"},"encoding":{"x":{"value":"width"},"y":{"field":"lod","type":"quantitative"},"text":{"field":"label"}}},
     {"data":{"name":"Dsum"},"mark":{"type":"rule","color":"#222","strokeWidth":0.9},"encoding":{"x":{"field":"slot","type":"nominal","axis":null},"y":{"field":"lo","type":"quantitative"},"y2":{"field":"hi"}}},
     {"data":{"name":"Dsum"},"mark":{"type":"tick","color":"#222","size":5,"thickness":0.9},"encoding":{"x":{"field":"slot","type":"nominal","axis":null},"y":{"field":"lo","type":"quantitative"}}},
     {"data":{"name":"Dsum"},"mark":{"type":"tick","color":"#222","size":5,"thickness":0.9},"encoding":{"x":{"field":"slot","type":"nominal","axis":null},"y":{"field":"hi","type":"quantitative"}}},
     {"data":{"name":"Dsum"},"mark":{"type":"tick","color":"#111","size":10,"thickness":1.2},"encoding":{"x":{"field":"slot","type":"nominal","axis":null},"y":{"field":"mean","type":"quantitative"}}},
     {"data":{"name":"Dbr"},"mark":{"type":"rule","color":"#333","strokeWidth":0.9},"encoding":{"x":{"field":"from","type":"nominal","axis":null},"x2":{"field":"to"},"y":{"datum":9.44}}},
     {"data":{"name":"Dbr"},"mark":{"type":"rule","color":"#333","strokeWidth":0.9},"encoding":{"x":{"field":"from","type":"nominal","axis":null},"y":{"datum":9.44},"y2":{"datum":8.9}}},
     {"data":{"name":"Dbr"},"mark":{"type":"rule","color":"#333","strokeWidth":0.9},"encoding":{"x":{"field":"to","type":"nominal","axis":null},"y":{"datum":9.44},"y2":{"datum":8.9}}},
     {"data":{"name":"Dbr"},"mark":{"type":"text","fontSize":6.5,"fontWeight":"bold","baseline":"middle","color":"#222"},"encoding":{"x":{"field":"to","type":"nominal","bandPosition":0,"axis":null},"y":{"datum":9.85},"text":{"field":"stars"}}}
    ]
   },
   {
    "title":{"text":"E"},
    "width":219,"height":118,
    "resolve":{"axis":{"x":"independent"}},
    "layer":[
     {"data":{"name":"Epts"},"mark":{"type":"point","filled":true,"size":22,"opacity":1,"color":"#aaaaaa"},
      "encoding":{
       "x":{"field":"slot","type":"nominal","scale":{"type":"band","paddingInner":0,"paddingOuter":0.3,"domain":["Hu-WA.1|2|U","Hu-WA.1|2|V","Hu-WA.1|4|U","Hu-WA.1|4|V","B.1.1.7-like|2|U","B.1.1.7-like|2|V","B.1.1.7-like|4|U","B.1.1.7-like|4|V","Hu-B.1.617.2|2|U","Hu-B.1.617.2|2|V","Hu-B.1.617.2|4|U","Hu-B.1.617.2|4|V","AY.103|2|U","AY.103|2|V","AY.103|4|U","AY.103|4|V","AY.25|2|U","AY.25|4|U"]},
            "axis":{"orient":"bottom","title":"Days Post Infection","titleFontSize":9.5,"titleFontWeight":"bold","titlePadding":5,"labelAngle":0,"labelFontSize":8,"labelFontWeight":"bold","labelOverlap":false,"labelPadding":3,
                    "labelExpr":"(split(datum.value,'|')[2]=='V' || split(datum.value,'|')[0]=='AY.25') ? split(datum.value,'|')[1] : ''",
                    "labelOffset":{"condition":{"test":"split(datum.value,'|')[0]!='AY.25'","value":-5.89},"value":0},
                    "tickBand":"extent","tickSize":3,"tickOpacity":{"condition":{"test":"split(datum.value,'|')[2]=='V'","value":1},"value":0}}},
       "y":{"field":"value","type":"quantitative","scale":{"domain":[0,10],"nice":false},
            "axis":{"title":["Lung Viral Titer","(Log₁₀ TCID₅₀/gram tissue)"],"values":[0,2,4,6,8,10],"labelFontWeight":"bold","labelFontSize":8,"titleFontSize":8.5,"titleFontWeight":"bold","tickSize":4,"titlePadding":4}},
       "color":{"field":"variant","type":"nominal","scale":{"domain":["Hu-WA.1","Hu-B.1.1.7","B.1.1.7-like","Hu-B.1.617.2","AY.103","AY.25"],"range":["#a8a8a8","#8e1b1e","#e5484f","#13166b","#2121c8","#8d8ddc"]},"legend":null},
       "shape":{"field":"status","type":"nominal","scale":{"domain":["Unvaccinated","Vaccinated"],"range":["circle","triangle-up"]},
            "legend":{"title":null,"orient":"none","legendX":27,"legendY":167,"direction":"horizontal","labelFontSize":7.5,"symbolSize":22,"symbolFillColor":"#aaaaaa","symbolStrokeColor":"#aaaaaa","columnPadding":46,"labelColor":"#444"}}
      }},
     {"data":{"name":"Faint"},"mark":{"type":"rule","color":"#e8e8e8","strokeWidth":0.8},"encoding":{"x":{"field":"slot","type":"nominal","bandPosition":0,"axis":null}}},
     {"data":{"name":"Sep"},"mark":{"type":"rule","color":"#8a8a8a","strokeWidth":1.2},"encoding":{"x":{"field":"slot","type":"nominal","bandPosition":0,"axis":null}}},
     {"data":{"name":"Head"},"mark":{"type":"point","opacity":0},"encoding":{"x":{"field":"slot","type":"nominal",
        "axis":{"orient":"top","title":null,"domain":false,"ticks":false,"labelAngle":0,"labelFontSize":6.5,"labelColor":"#333","labelPadding":7,"labelOverlap":false,"labelOffset":-5.89,
                "labelExpr":"(split(datum.value,'|')[1]=='4' && split(datum.value,'|')[2]=='U') ? split(datum.value,'|')[0] : ''"}}}},
     {"data":{"name":"Elod"},"mark":{"type":"rule","strokeDash":[2,2],"color":"#666","strokeWidth":0.8},"encoding":{"y":{"field":"lod","type":"quantitative"}}},
     {"data":{"name":"Elod"},"mark":{"type":"text","align":"left","dx":4,"fontSize":5.5,"color":"#333"},"encoding":{"x":{"value":"width"},"y":{"field":"lod","type":"quantitative"},"text":{"field":"label"}}},
     {"data":{"name":"Esum"},"mark":{"type":"rule","color":"#222","strokeWidth":0.9},"encoding":{"x":{"field":"slot","type":"nominal","axis":null},"y":{"field":"lo","type":"quantitative"},"y2":{"field":"hi"}}},
     {"data":{"name":"Esum"},"mark":{"type":"tick","color":"#222","size":5,"thickness":0.9},"encoding":{"x":{"field":"slot","type":"nominal","axis":null},"y":{"field":"lo","type":"quantitative"}}},
     {"data":{"name":"Esum"},"mark":{"type":"tick","color":"#222","size":5,"thickness":0.9},"encoding":{"x":{"field":"slot","type":"nominal","axis":null},"y":{"field":"hi","type":"quantitative"}}},
     {"data":{"name":"Esum"},"mark":{"type":"tick","color":"#111","size":10,"thickness":1.2},"encoding":{"x":{"field":"slot","type":"nominal","axis":null},"y":{"field":"mean","type":"quantitative"}}},
     {"data":{"name":"Ebr"},"mark":{"type":"rule","color":"#333","strokeWidth":0.9},"encoding":{"x":{"field":"from","type":"nominal","axis":null},"x2":{"field":"to"},"y":{"datum":9.29}}},
     {"data":{"name":"Ebr"},"mark":{"type":"rule","color":"#333","strokeWidth":0.9},"encoding":{"x":{"field":"from","type":"nominal","axis":null},"y":{"datum":9.29},"y2":{"datum":8.73}}},
     {"data":{"name":"Ebr"},"mark":{"type":"rule","color":"#333","strokeWidth":0.9},"encoding":{"x":{"field":"to","type":"nominal","axis":null},"y":{"datum":9.29},"y2":{"datum":8.73}}},
     {"data":{"name":"Ebr"},"mark":{"type":"text","fontSize":6.5,"fontWeight":"bold","baseline":"middle","color":"#222"},"encoding":{"x":{"field":"to","type":"nominal","bandPosition":0,"axis":null},"y":{"datum":9.7},"text":{"field":"stars"}}}
    ]
   }
  ]
 }
 ]
 }
]
}
